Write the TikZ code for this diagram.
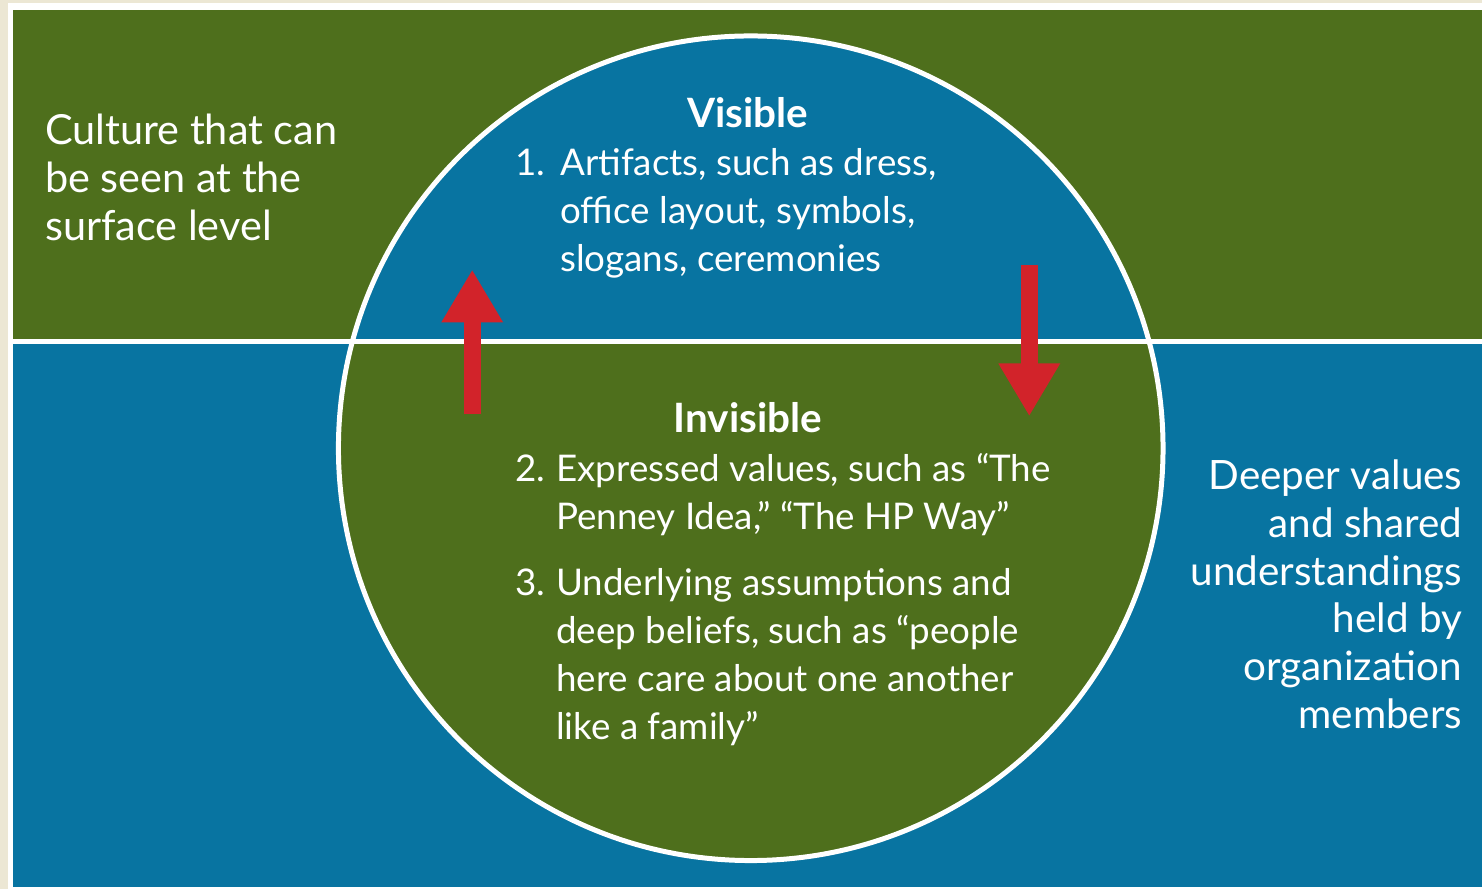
\documentclass[tikz,border=0pt]{standalone}
\usepackage{fontspec}
\setmainfont{Lato}
\usetikzlibrary{arrows.meta}
\definecolor{cultgreen}{HTML}{4E6F1C}
\definecolor{cultblue}{HTML}{0874A1}
\definecolor{arrowred}{HTML}{D2232A}
\definecolor{pagecream}{HTML}{ECE7D4}
\tikzset{
  sidetxt/.style={text=white, font=\fontsize{41.5}{48}\selectfont, inner sep=0pt},
  itemtxt/.style={text=white, font=\fontsize{36.8}{48}\selectfont, inner sep=0pt},
  headtxt/.style={text=white, font=\fontsize{40.5}{44}\selectfont\bfseries, inner sep=0pt},
  flowarrow/.style={draw=arrowred, line width=17pt, -{Triangle[width=58pt,length=53pt]}},
}
\begin{document}
\begin{tikzpicture}[x=1pt,y=-1pt]
      % page and the two bands
      \fill[pagecream] (0,0) rectangle (1484,890);
      \fill[white] (8,3) rectangle (1484,890);
      \fill[cultgreen] (13,10) rectangle (1484,342);
      \fill[cultblue] (13,342) rectangle (1484,888);
      \begin{scope}
        \clip (752,449) circle (413pt);
        \fill[cultblue] (13,10) rectangle (1484,342);
        \fill[cultgreen] (13,342) rectangle (1484,888);
      \end{scope}
      \draw[white, line width=5pt] (752,449) circle (413pt);
      \draw[white, line width=5pt] (13,342) -- (1484,342);
      % arrows
      \coordinate (upfoot) at (473,415);
      \coordinate (uptip) at (473,270);
      \coordinate (downfoot) at (1031,265);
      \coordinate (downtip) at (1031,417);
      \draw[flowarrow] (upfoot) -- (uptip);
      \draw[flowarrow] (downfoot) -- (downtip);
      % texts (base = last line)
      \node[sidetxt, anchor=base west, align=left] (surface) at (45,241)
        {Culture that can\\be seen at the\\surface level};
      \node[sidetxt, font=\fontsize{40.5}{48}\selectfont, anchor=base east, align=right] (deeper) at (1465,730)
        {Deeper values\\and shared\\understandings\\held by\\organization\\members};
      \node[headtxt, anchor=base] (visible) at (749,128) {Visible};
      \node[itemtxt, anchor=base west] (n1) at (516,176) {1.};
      \node[itemtxt, anchor=base west, align=left] (artifacts) at (561,272)
        {Artifacts, such as dress,\\office layout, symbols,\\slogans, ceremonies};
      \node[headtxt, anchor=base] (invisible) at (749,433) {Invisible};
      \node[itemtxt, anchor=base west] (n2) at (516,482) {2.};
      \node[itemtxt, anchor=base west, align=left] (expressed) at (557,530)
        {Expressed values, such as “The\\Penney Idea,” “The HP Way”};
      \node[itemtxt, anchor=base west] (n3) at (516,597) {3.};
      \node[itemtxt, anchor=base west, align=left] (underlying) at (557,741)
        {Underlying assumptions and\\deep beliefs, such as “people\\here care about one another\\like a family”};
\end{tikzpicture}
\end{document}
